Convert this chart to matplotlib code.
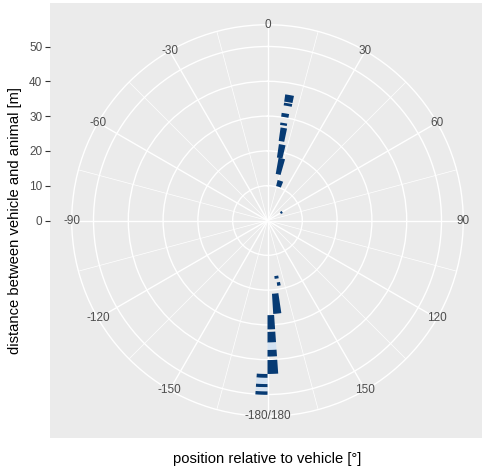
import matplotlib
matplotlib.use('Agg')
import matplotlib.pyplot as plt
import numpy as np
from matplotlib.colors import LinearSegmentedColormap, Normalize

# theta axis (position relative to vehicle, degrees)
angle_ticks = [0, 30, 60, 90, 120, 150, 180, -150, -120, -90, -60, -30]
angle_labels = ['0', '30', '60', '90', '120', '150', '-180/180',
                '-150', '-120', '-90', '-60', '-30']
minor_angles = [15, 45, 75, 105, 135, 165, -165, -135, -105, -75, -45, -15]

# radial axis (distance, m)
dist_ticks = [0, 10, 20, 30, 40, 50]
dist_max = 56.25

# binned observations: angle bin centre / width [deg], distance range [m], count
tile_angle = [10, 10, 9.5, 9.5, 10, 11, 13, 18,
              60,
              171, 170, 174, 178, 178, 178, 178, 178,
              -178, -178, -178, -178, -178]
tile_width = [4, 4, 4, 4, 4, 5, 6, 8,
              8,
              4, 3, 5, 4, 4, 4, 4, 4,
              4, 4, 4, 4, 4]
tile_start = [34.5, 33.4, 30.1, 27.7, 23.1, 18.3, 13.6, 10.2,
              4.3,
              16.1, 18.0, 21.1, 27.2, 32.0, 35.1, 37.2, 40.1,
              44.1, 45.3, 47.0, 48.0, 49.1]
tile_end = [36.6, 34.2, 31.2, 28.4, 27.0, 22.2, 18.3, 12.0,
            4.9,
            16.9, 19.0, 26.9, 31.3, 35.1, 37.2, 39.1, 44.1,
            45.2, 47.0, 47.9, 49.0, 50.1]
tile_count = [10, 10, 10, 10, 10, 10, 10, 10,
              10,
              10, 10, 10, 10, 10, 1, 10, 10,
              10, 1, 10, 1, 10]


def main():
    fig = plt.figure(figsize=(4.82, 4.72), dpi=100)
    plt.rcParams['font.family'] = ['Liberation Sans', 'DejaVu Sans']

    # grey panel with the left distance axis
    ax_bg = fig.add_axes([50 / 482, 34 / 472, 435 / 482, 435 / 472])
    ax_bg.set_facecolor('#EBEBEB')
    ax_bg.set_xlim(-62.5, 62.5)
    ax_bg.set_ylim(-62.5, 62.5)
    ax_bg.set_xticks([])
    ax_bg.set_yticks(dist_ticks)
    ax_bg.tick_params(axis='y', length=3.5, width=0.8, color='#333333',
                      labelcolor='#4D4D4D', labelsize=8.5, pad=2)
    for s in ax_bg.spines.values():
        s.set_visible(False)
    ax_bg.set_ylabel('distance between vehicle and animal [m]',
                     fontsize=10.6, color='black', labelpad=5)
    ax_bg.set_xlabel('position relative to vehicle [°]',
                     fontsize=10.6, color='black', labelpad=10)

    # polar plot on top
    side = 2 * 195.75
    ax = fig.add_axes([(267.5 - side / 2) / 482, (472 - 220.5 - side / 2) / 472,
                       side / 482, side / 472], projection='polar')
    ax.patch.set_alpha(0)
    ax.set_theta_zero_location('N')
    ax.set_theta_direction(-1)

    cmap = LinearSegmentedColormap.from_list('fill', ['#d3e2f2', '#073b74'])
    norm = Normalize(vmin=1, vmax=10)
    heights = np.subtract(tile_end, tile_start)
    ax.bar(np.deg2rad(np.mod(tile_angle, 360)), heights,
           width=np.deg2rad(tile_width), bottom=tile_start,
           color=cmap(norm(np.array(tile_count))), linewidth=0, align='center')

    ax.set_xticks(np.deg2rad(np.mod(angle_ticks, 360)))
    ax.set_xticks(np.deg2rad(np.mod(minor_angles, 360)), minor=True)
    ax.set_xticklabels([])
    ax.set_thetalim(0, 2 * np.pi)
    ax.set_ylim(0, dist_max)
    ax.set_yticks(dist_ticks[1:])
    ax.set_yticklabels([])
    ax.tick_params(axis='both', length=0, which='both')
    ax.set_axisbelow(True)
    ax.xaxis.grid(True, which='major', color='white', linewidth=1.0)
    ax.xaxis.grid(True, which='minor', color='white', linewidth=0.5)
    ax.yaxis.grid(True, color='white', linewidth=1.0)
    ax.spines['polar'].set_color('white')
    ax.spines['polar'].set_linewidth(1.0)

    for a, lab in zip(angle_ticks, angle_labels):
        ax.text(np.deg2rad(a % 360), dist_max, lab, ha='center', va='center',
                fontsize=8.5, color='#4D4D4D')

    fig.savefig('out.png', dpi=100)


if __name__ == '__main__':
    main()
